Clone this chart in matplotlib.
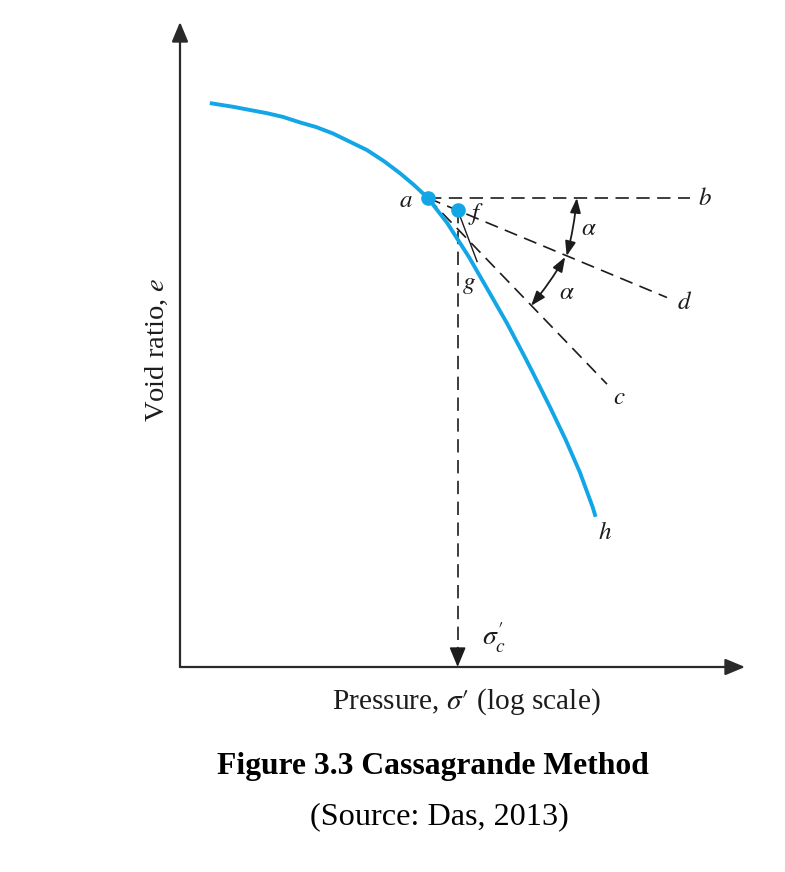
import matplotlib
matplotlib.use("Agg")
import matplotlib.pyplot as plt

# e - log(sigma') curve
PRESSURE = [1.44, 1.91, 2.90, 3.52, 4.34, 5.28, 6.49, 7.99, 9.84, 12.1, 14.7, 17.5,
            20.7, 26.2, 34.2, 43.2, 54.5, 67.9, 74.9, 92.2, 112, 133, 155, 161]
VOID_RATIO = [0.912, 0.908, 0.901, 0.897, 0.891, 0.886, 0.879, 0.870, 0.861, 0.849, 0.836, 0.823,
              0.809, 0.782, 0.745, 0.709, 0.673, 0.636, 0.619, 0.582, 0.546, 0.511, 0.474, 0.463]

# Casagrande construction (pressure, void ratio)
POINT_A = (20.7, 0.809)      # point of max curvature
POINT_F = (29.8, 0.796)      # bisector meets extension of gh
END_B = (511, 0.809)         # horizontal line
END_C = (185, 0.607)         # tangent at a
END_D = (385, 0.701)         # bisector
END_G = (37.8, 0.740)        # back-extension of straight part gh
ALPHA_UPPER = [(128, 0.809), (113, 0.746)]
ALPHA_LOWER = [(111, 0.745), (73.1, 0.692)]

X_LIMITS = (1, 1000)
Y_LIMITS = (0.3, 1.0)

BLUE = "#12a6e6"
INK = "#1c1c1c"


def main():
    plt.rcParams["font.family"] = ["Liberation Serif", "DejaVu Serif"]
    plt.rcParams["mathtext.fontset"] = "stix"

    fig = plt.figure(figsize=(7.85, 8.72), dpi=100)
    ax = fig.add_axes([180 / 785, 205 / 872, 565 / 785, 645 / 872])
    ax.set_xscale("log")
    ax.set_xlim(*X_LIMITS)
    ax.set_ylim(*Y_LIMITS)
    ax.axis("off")

    # axes drawn as arrows
    head = "-|>,head_length=0.6,head_width=0.25"
    for tip in [(0, 1), (1, 0)]:
        ax.annotate("", xy=tip, xytext=(0, 0), xycoords="axes fraction",
                    arrowprops=dict(arrowstyle=head, color="#2a2a2a", lw=1.6,
                                    mutation_scale=20, shrinkA=0, shrinkB=0))

    # construction lines
    dash = dict(color=INK, lw=1.2, dashes=(8, 4.5))
    for end in [END_B, END_D, END_C]:
        ax.plot([POINT_A[0], end[0]], [POINT_A[1], end[1]], **dash)
    ax.plot([POINT_F[0], END_G[0]], [POINT_F[1], END_G[1]], color=INK, lw=1.0)

    # vertical line down to sigma'_c
    ax.plot([POINT_F[0], POINT_F[0]], [POINT_F[1], Y_LIMITS[0]], **dash)
    ax.annotate("", xy=(POINT_F[0], Y_LIMITS[0]), xytext=(0, 14),
                textcoords="offset points",
                arrowprops=dict(arrowstyle=head, color=INK, lw=1.2,
                                mutation_scale=20, shrinkA=0, shrinkB=0))

    # the curve and its two points
    ax.plot(PRESSURE, VOID_RATIO, color=BLUE, lw=2.8, solid_capstyle="butt",
            solid_joinstyle="round", zorder=3)
    ax.plot([POINT_A[0], POINT_F[0]], [POINT_A[1], POINT_F[1]], "o",
            color=BLUE, ms=9.5, zorder=4)

    # alpha angle arrows
    for start, end in [ALPHA_UPPER, ALPHA_LOWER]:
        ax.annotate("", xy=end, xytext=start,
                    arrowprops=dict(arrowstyle="<|-|>,head_length=0.55,head_width=0.2",
                                    color=INK, lw=1.3, mutation_scale=16,
                                    shrinkA=0, shrinkB=0,
                                    connectionstyle="arc3,rad=-0.04"))

    label = dict(fontsize=18, color=INK, ha="center", va="center",
                 textcoords="offset points")
    ax.annotate("$a$", xy=POINT_A, xytext=(-16, -2), **label)
    ax.annotate("$f$", xy=POINT_F, xytext=(13, -3), **label)
    ax.annotate("$g$", xy=END_G, xytext=(-6, -17), **label)
    ax.annotate("$b$", xy=END_B, xytext=(11, -1), **label)
    ax.annotate("$d$", xy=END_D, xytext=(13, -4), **label)
    ax.annotate("$c$", xy=END_C, xytext=(9, -10), **label)
    ax.annotate("$h$", xy=(PRESSURE[-1], VOID_RATIO[-1]), xytext=(7, -12), **label)
    ax.annotate(r"$\sigma^{\prime}_{c}$", xy=(POINT_F[0], Y_LIMITS[0]), xytext=(26, 21),
                **dict(label, fontsize=20))
    ax.annotate(r"$\alpha$", xy=ALPHA_UPPER[0], xytext=(9, -22), **label)
    ax.annotate(r"$\alpha$", xy=ALPHA_LOWER[0], xytext=(1, -26), **label)

    fig.text(157 / 785, 1 - 350 / 872, "Void ratio, $e$", rotation=90,
             fontsize=20.5, color=INK, ha="center", va="center")
    fig.text(466 / 785, 1 - 702 / 872, r"Pressure, $\sigma\prime$ (log scale)",
             fontsize=21.2, color=INK, ha="center", va="center")
    fig.text(433 / 785, 1 - 766 / 872, "Figure 3.3 Cassagrande Method",
             fontsize=22.8, fontweight="bold", color="black", ha="center", va="center")
    fig.text(439 / 785, 1 - 817 / 872, "(Source: Das, 2013)",
             fontsize=23.2, color="black", ha="center", va="center")

    fig.savefig("out.png", dpi=100)
    plt.close(fig)


if __name__ == "__main__":
    main()
